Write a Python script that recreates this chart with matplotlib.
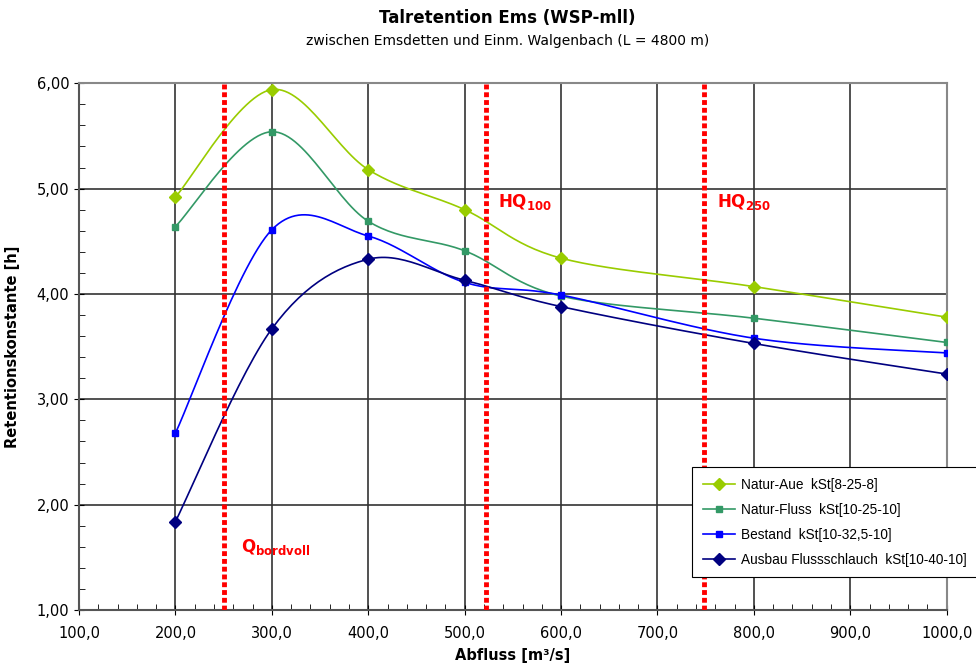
import matplotlib.pyplot as plt
import numpy as np
from matplotlib.ticker import MultipleLocator, FuncFormatter

# Abfluss [m3/s]
abfluss = [200, 300, 400, 500, 600, 800, 1000]

natur_aue = [4.92, 5.94, 5.18, 4.80, 4.34, 4.07, 3.78]
natur_fluss = [4.64, 5.54, 4.69, 4.41, 3.98, 3.77, 3.54]
bestand = [2.68, 4.61, 4.55, 4.11, 3.99, 3.58, 3.44]
ausbau = [1.84, 3.67, 4.33, 4.13, 3.88, 3.53, 3.24]

# marker lines
q_lines = [250, 522, 748]
q_labels = ["Q$_{\\mathbf{bordvoll}}$", "HQ$_{\\mathbf{100}}$", "HQ$_{\\mathbf{250}}$"]
q_label_pos = [(268, 1.55), (535, 4.83), (762, 4.83)]


def smooth(x, y, n=30):
    # excel-like smoothed line (bezier through points)
    x = np.asarray(x, float)
    y = np.asarray(y, float)
    px = np.concatenate([[x[0]], x, [x[-1]]])
    py = np.concatenate([[y[0]], y, [y[-1]]])
    xs, ys = [], []
    t = np.linspace(0, 1, n)
    for i in range(1, len(px) - 2):
        p0 = np.array([px[i], py[i]])
        p3 = np.array([px[i + 1], py[i + 1]])
        p1 = p0 + (np.array([px[i + 1], py[i + 1]]) - np.array([px[i - 1], py[i - 1]])) / 6
        p2 = p3 - (np.array([px[i + 2], py[i + 2]]) - np.array([px[i], py[i]])) / 6
        b = ((1 - t) ** 3)[:, None] * p0 + (3 * (1 - t) ** 2 * t)[:, None] * p1 \
            + (3 * (1 - t) * t ** 2)[:, None] * p2 + (t ** 3)[:, None] * p3
        xs.extend(b[:, 0])
        ys.extend(b[:, 1])
    return xs, ys


fig = plt.figure(figsize=(9.76, 6.66), dpi=100)
ax = fig.add_axes([0.081, 0.084, 0.889, 0.791])

series = [
    (natur_aue, "#99CC00", "D", 6.5, "Natur-Aue  kSt[8-25-8]"),
    (natur_fluss, "#339966", "s", 4.5, "Natur-Fluss  kSt[10-25-10]"),
    (bestand, "#0000FF", "s", 4.5, "Bestand  kSt[10-32,5-10]"),
    (ausbau, "#000080", "D", 6.5, "Ausbau Flussschlauch  kSt[10-40-10]"),
]
for vals, col, mk, ms, lab in series:
    sx, sy = smooth(abfluss, vals)
    ax.plot(sx, sy, color=col, lw=1.2, zorder=3)
    ax.plot(abfluss, vals, ls="none", marker=mk, color=col, ms=ms, zorder=4)
    ax.plot([], [], color=col, lw=1.2, marker=mk, ms=ms, label=lab)

for xq in q_lines:
    ax.axvline(xq, color="#FF0000", lw=3.5, ls=(0, (1, 0.6)), zorder=5)
for lab, (lx, ly) in zip(q_labels, q_label_pos):
    ax.text(lx, ly, lab, color="#FF0000", fontsize=12, fontweight="bold", zorder=6)

ax.set_xlim(100, 1000)
ax.set_ylim(1, 6)
ax.xaxis.set_major_locator(MultipleLocator(100))
ax.xaxis.set_minor_locator(MultipleLocator(20))
ax.yaxis.set_major_locator(MultipleLocator(1))
ax.yaxis.set_minor_locator(MultipleLocator(0.2))
ax.xaxis.set_major_formatter(FuncFormatter(lambda v, p: f"{v:.1f}".replace(".", ",")))
ax.yaxis.set_major_formatter(FuncFormatter(lambda v, p: f"{v:.2f}".replace(".", ",")))
ax.tick_params(which="major", direction="inout", length=7, labelsize=10.5, colors="black")
ax.tick_params(axis="x", which="major", pad=8)
ax.tick_params(which="minor", direction="in", length=4)
ax.grid(True, which="major", color="#333333", lw=1.2, zorder=1)
for s in ["top", "right"]:
    ax.spines[s].set_color("#888888")
    ax.spines[s].set_linewidth(1.5)
for s in ["left", "bottom"]:
    ax.spines[s].set_color("#555555")
    ax.spines[s].set_linewidth(1.5)

ax.set_xlabel("Abfluss [m³/s]", fontsize=10.5, fontweight="bold", labelpad=5)
ax.set_ylabel("Retentionskonstante [h]", fontsize=10.5, fontweight="bold", labelpad=12)

fig.text(0.52, 0.965, "Talretention Ems (WSP-mll)", ha="center", fontsize=12, fontweight="bold")
fig.text(0.52, 0.932, "zwischen Emsdetten und Einm. Walgenbach (L = 4800 m)", ha="center", fontsize=10)

leg = ax.legend(loc="lower right", bbox_to_anchor=(1.036, 0.062),
                prop={"family": "Liberation Sans", "size": 9.8},
                frameon=True, fancybox=False, edgecolor="black", framealpha=1,
                borderpad=0.8, labelspacing=0.8, handlelength=2.3,
                handletextpad=0.5, borderaxespad=0)
leg.get_frame().set_linewidth(0.8)
leg.set_zorder(10)

fig.savefig("out.png", dpi=100)
